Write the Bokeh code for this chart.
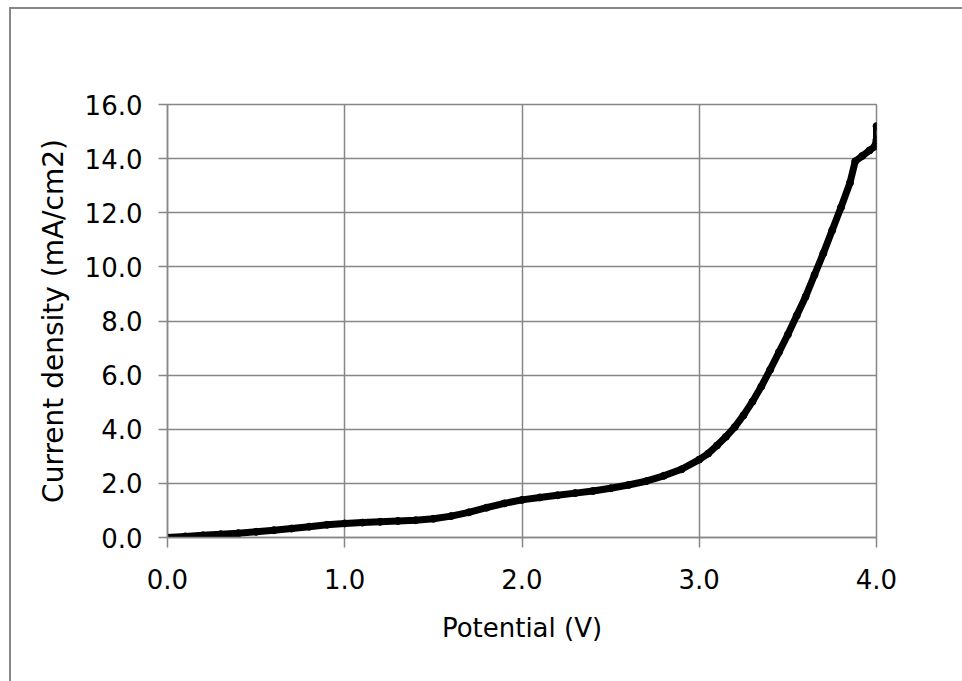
from bokeh.plotting import figure
from bokeh.models import FixedTicker, PrintfTickFormatter
from bokeh.embed import file_html
from bokeh.resources import INLINE

# Linear sweep: potential (V) vs. current density (mA/cm2)
potential = [0.0, 0.1, 0.2, 0.3, 0.4, 0.5, 0.6, 0.7, 0.8, 0.9,
             1.0, 1.1, 1.2, 1.3, 1.4, 1.5, 1.6, 1.7, 1.8, 1.9,
             2.0, 2.1, 2.2, 2.3, 2.4, 2.5, 2.6, 2.7, 2.8, 2.9,
             3.0, 3.05, 3.1, 3.15, 3.2, 3.25, 3.3, 3.35, 3.4, 3.45,
             3.5, 3.55, 3.6, 3.65, 3.7, 3.75, 3.8, 3.85, 3.88, 3.92,
             3.96, 3.99, 4.0, 4.0]
current_density = [0.00, 0.04, 0.08, 0.12, 0.16, 0.21, 0.27, 0.33, 0.40, 0.47,
                   0.52, 0.55, 0.58, 0.61, 0.64, 0.69, 0.79, 0.93, 1.10, 1.26,
                   1.39, 1.48, 1.56, 1.64, 1.72, 1.82, 1.94, 2.08, 2.28, 2.52,
                   2.88, 3.10, 3.40, 3.72, 4.08, 4.52, 5.02, 5.58, 6.20, 6.85,
                   7.50, 8.20, 8.90, 9.70, 10.50, 11.35, 12.20, 13.10, 13.90, 14.10,
                   14.30, 14.45, 14.70, 15.20]

x_ticks = [0, 1, 2, 3, 4]
y_ticks = [0, 2, 4, 6, 8, 10, 12, 14, 16]

GRID = "#878787"
FONT = "DejaVu Sans"

p = figure(width=962, height=681, x_range=(0, 4), y_range=(0, 16),
           output_backend="svg", toolbar_location=None,
           min_border_left=167, min_border_right=86,
           min_border_top=104, min_border_bottom=144,
           background_fill_color="white", border_fill_color=None)

# chart-area frame: thin grey rule along the top and left edges
p.styles = {
    "background": (f"linear-gradient({GRID},{GRID}) 9px 7px / 953px 2px no-repeat, "
                   f"linear-gradient({GRID},{GRID}) 9px 7px / 2px 674px no-repeat, "
                   "#ffffff"),
}

p.outline_line_color = GRID
p.outline_line_width = 1.5

p.line(potential, current_density, line_color="black", line_width=7,
       line_join="round", line_cap="round")
p.scatter(potential, current_density, size=7, color="black")

for ax in (p.xaxis[0], p.yaxis[0]):
    ax.axis_line_color = GRID
    ax.axis_line_width = 1.5
    ax.major_tick_line_color = GRID
    ax.major_tick_line_width = 1.5
    ax.major_tick_in = 0
    ax.minor_tick_line_color = None
    ax.major_label_text_font = FONT
    ax.major_label_text_font_size = "26px"
    ax.major_label_text_color = "black"
    ax.axis_label_text_font = FONT
    ax.axis_label_text_font_style = "normal"
    ax.axis_label_text_color = "black"
    ax.formatter = PrintfTickFormatter(format="%.1f")

p.xaxis.ticker = FixedTicker(ticks=x_ticks)
p.yaxis.ticker = FixedTicker(ticks=y_ticks)
p.xaxis.major_tick_out = 10
p.yaxis.major_tick_out = 9
p.xaxis.major_label_standoff = 21
p.yaxis.major_label_standoff = 16
p.xaxis.axis_label = "Potential (V)"
p.yaxis.axis_label = "Current density (mA/cm2)"
p.xaxis.axis_label_text_font_size = "26px"
p.yaxis.axis_label_text_font_size = "28px"
p.xaxis.axis_label_standoff = 21
p.yaxis.axis_label_standoff = 12

p.xgrid.ticker = FixedTicker(ticks=x_ticks)
p.ygrid.ticker = FixedTicker(ticks=y_ticks)
p.grid.grid_line_color = GRID
p.grid.grid_line_width = 1.5

open("out.html", "w").write(file_html(p, INLINE))
